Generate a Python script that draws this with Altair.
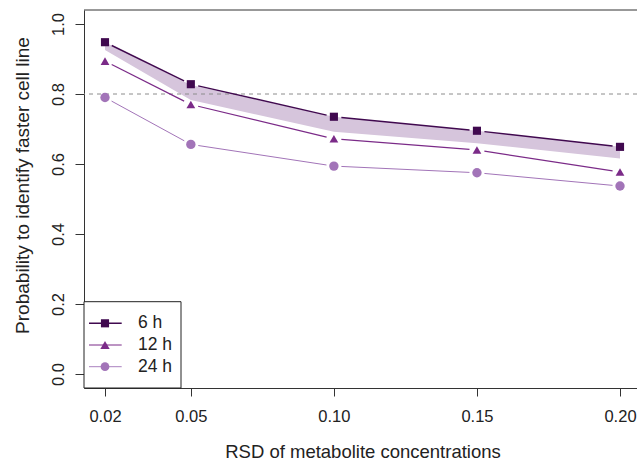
import altair as alt
import pandas as pd

# ---- data ----
rsd = [0.02, 0.05, 0.10, 0.15, 0.20]
series = ["6 h", "12 h", "24 h"]
p6 = [0.948, 0.828, 0.735, 0.695, 0.649]
p12 = [0.894, 0.770, 0.672, 0.640, 0.577]
p24 = [0.790, 0.656, 0.594, 0.575, 0.537]
band_lo = [0.926, 0.783, 0.692, 0.659, 0.616]
band_hi = [0.948, 0.826, 0.735, 0.695, 0.649]
threshold = [0.8]
y_ticks = [0.0, 0.2, 0.4, 0.6, 0.8, 1.0]

# ---- styles ----
colors = ["#40094f", "#7b2b88", "#a274b8"]
shapes = ["square", "triangle-up", "circle"]
sizes = [66, 88, 76]
widths = [1.4, 1.0, 0.9]
band_color = "#d6c5dc"
FONT = "Liberation Sans"

W, H = 553, 378
XDOM = [0.01266, 0.20594]
YDOM = [-0.04, 1.04]
KX = W / (XDOM[1] - XDOM[0])
KY = H / (YDOM[1] - YDOM[0])
GAP = 7.5

vals = {"6 h": p6, "12 h": p12, "24 h": p24}
pts = pd.DataFrame([
    {"series": s, "rsd": x, "p": y}
    for s in series for x, y in zip(rsd, vals[s])
])
segs = pd.DataFrame([
    {"series": s, "x0": rsd[i], "y0": vals[s][i], "x1": rsd[i + 1], "y1": vals[s][i + 1]}
    for s in series for i in range(len(rsd) - 1)
])
band = pd.DataFrame({"rsd": rsd, "lo": band_lo, "hi": band_hi})
thr = pd.DataFrame({"y": threshold})
leg = pd.DataFrame({"series": series})

xscale = alt.Scale(domain=XDOM, nice=False, zero=False)
yscale = alt.Scale(domain=YDOM, nice=False, zero=False)
cscale = alt.Scale(domain=series, range=colors)

xaxis = alt.Axis(values=rsd, format=".2f", title="RSD of metabolite concentrations",
                 grid=False, domain=True, domainColor="#333", tickColor="#333",
                 tickSize=8, labelPadding=12, labelFontSize=16.5, labelFont=FONT,
                 labelColor="#222", titleFont=FONT, titleFontSize=18.5, titleFontWeight="normal",
                 titleColor="#222", titleX=278.5, titleY=69, titleBaseline="alphabetic",
                 titleAnchor="start", titleAlign="center", labelFlush=False)
yaxis = alt.Axis(values=y_ticks, format=".1f", title="Probability to identify faster cell line",
                 grid=False, domain=True, domainColor="#333", tickColor="#333",
                 tickSize=9, labelPadding=12, labelAngle=-90, labelAlign="center",
                 labelBaseline="alphabetic", labelFontSize=16.5, labelFont=FONT,
                 labelColor="#222", titleFont=FONT, titleFontSize=19, titleFontWeight="normal",
                 titleColor="#222", titleAngle=-90, titleX=-62, titleY=175,
                 titleAlign="center", titleBaseline="middle", labelFlush=False)

band_layer = alt.Chart(band).mark_area(color=band_color, opacity=1).encode(
    x=alt.X("rsd:Q", scale=xscale, axis=xaxis),
    y=alt.Y("lo:Q", scale=yscale, axis=yaxis),
    y2="hi:Q",
)

thr_layer = alt.Chart(thr).mark_rule(color="#8c8c8c", strokeDash=[4, 4], strokeWidth=1).encode(
    y="y:Q"
)

seg_layer = alt.Chart(segs).transform_calculate(
    L=f"sqrt(pow((datum.x1-datum.x0)*{KX},2)+pow((datum.y1-datum.y0)*{KY},2))"
).transform_calculate(
    f=f"{GAP}/datum.L"
).transform_calculate(
    xa="datum.x0+datum.f*(datum.x1-datum.x0)",
    ya="datum.y0+datum.f*(datum.y1-datum.y0)",
    xb="datum.x1-datum.f*(datum.x1-datum.x0)",
    yb="datum.y1-datum.f*(datum.y1-datum.y0)",
).mark_rule().encode(
    x="xa:Q", x2="xb:Q", y="ya:Q", y2="yb:Q",
    color=alt.Color("series:N", scale=cscale, legend=None),
    strokeWidth=alt.StrokeWidth("series:N", scale=alt.Scale(domain=series, range=widths), legend=None),
)

pt_layer = alt.Chart(pts).mark_point(filled=True, opacity=1).encode(
    x="rsd:Q", y="p:Q",
    color=alt.Color("series:N", scale=cscale, legend=None),
    shape=alt.Shape("series:N", scale=alt.Scale(domain=series, range=shapes), legend=None),
    size=alt.Size("series:N", scale=alt.Scale(domain=series, range=sizes), legend=None),
)

top_border = alt.Chart(thr).mark_rule(color="#333", strokeWidth=1).encode(
    x=alt.value(0), x2=alt.value(W), y=alt.value(0)
)

# ---- manual legend (bottom-left, like R's legend()) ----
legend_box = alt.Chart(thr).mark_rect(fill="white", stroke="#222", strokeWidth=1).encode(
    x=alt.value(0), x2=alt.value(97), y=alt.value(291.7), y2=alt.value(H)
)
legend_layers = [legend_box]
leg_y = [313.3, 335, 356.7]
for i, s in enumerate(series):
    base = alt.Chart(leg).transform_filter(alt.datum.series == s)
    legend_layers.append(base.mark_rule(color=colors[i], strokeWidth=widths[i]).encode(
        x=alt.value(5), x2=alt.value(37.7), y=alt.value(leg_y[i])))
    legend_layers.append(base.mark_point(filled=True, opacity=1, shape=shapes[i],
                                         size=sizes[i], color=colors[i]).encode(
        x=alt.value(21), y=alt.value(leg_y[i])))
    legend_layers.append(base.mark_text(align="left", baseline="middle", font=FONT,
                                        fontSize=17.5, color="#222").encode(
        x=alt.value(54), y=alt.value(leg_y[i]), text="series:N"))

chart = alt.layer(
    band_layer, thr_layer, seg_layer, pt_layer, top_border, *legend_layers
).properties(
    width=W, height=H,
    autosize=alt.AutoSizeParams(type="none"),
    padding={"left": 84, "top": 10, "right": 0, "bottom": 72},
    background="white",
).configure_view(stroke=None)

chart.save("out.html", embed_options={"renderer": "svg", "actions": False})
